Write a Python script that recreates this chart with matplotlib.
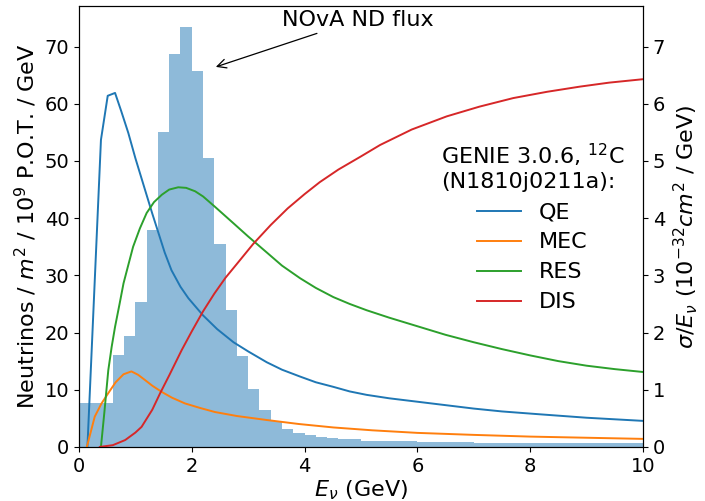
import matplotlib
matplotlib.use("Agg")
import matplotlib.pyplot as plt
import numpy as np

# Flux histogram (left axis)
flux_edges = [0.0, 0.6, 0.8, 1.0, 1.2, 1.4, 1.6, 1.8, 2.0, 2.2, 2.4, 2.6, 2.8, 3.0,
              3.2, 3.4, 3.6, 3.8, 4.0, 4.2, 4.4, 4.6, 5.0, 6.0, 7.0, 10.0]
flux_vals = [7.7, 16.1, 19.4, 25.4, 37.9, 55.0, 68.7, 73.4, 65.7, 50.5, 35.4, 23.9, 15.9,
             10.2, 6.5, 4.5, 3.2, 2.4, 2.0, 1.75, 1.5, 1.3, 1.0, 0.85, 0.7]

# Cross sections (right axis)
qe_E = [0.15, 0.39, 0.51, 0.64, 0.75, 0.875, 1.0, 1.17, 1.3, 1.41, 1.52, 1.64, 1.8, 1.94,
        2.2, 2.45, 2.74, 3.0, 3.33, 3.6, 3.92, 4.2, 4.51, 4.8, 5.1, 5.5, 6.0, 6.5, 7.0,
        7.5, 8.17, 9.0, 10.0]
qe_xs = [0.0, 5.37, 6.14, 6.19, 5.87, 5.49, 5.05, 4.50, 4.08, 3.74, 3.40, 3.09, 2.80, 2.60,
         2.30, 2.06, 1.83, 1.67, 1.48, 1.35, 1.23, 1.13, 1.05, 0.97, 0.91, 0.85, 0.79, 0.73,
         0.67, 0.62, 0.57, 0.51, 0.455]

mec_E = [0.14, 0.28, 0.4, 0.52, 0.65, 0.79, 0.93, 1.05, 1.17, 1.3, 1.47, 1.65, 1.88, 2.15,
         2.41, 2.8, 3.33, 3.9, 4.51, 5.2, 6.0, 7.0, 8.0, 9.0, 10.0]
mec_xs = [0.0, 0.53, 0.76, 0.94, 1.13, 1.27, 1.32, 1.26, 1.17, 1.07, 0.96, 0.86, 0.76, 0.68,
          0.61, 0.54, 0.47, 0.40, 0.34, 0.29, 0.245, 0.21, 0.18, 0.16, 0.14]

res_E = [0.39, 0.45, 0.52, 0.58, 0.64, 0.72, 0.79, 0.88, 0.96, 1.08, 1.2, 1.33, 1.47, 1.6,
         1.76, 1.9, 2.06, 2.2, 2.41, 2.74, 3.0, 3.33, 3.6, 3.92, 4.2, 4.51, 4.8, 5.1, 5.5,
         6.0, 6.5, 7.0, 7.5, 8.0, 8.5, 9.0, 9.5, 10.0]
res_xs = [0.0, 0.6, 1.34, 1.75, 2.10, 2.50, 2.86, 3.20, 3.50, 3.82, 4.09, 4.28, 4.41, 4.50,
          4.54, 4.53, 4.47, 4.38, 4.20, 3.91, 3.68, 3.40, 3.17, 2.95, 2.78, 2.62, 2.50, 2.39,
          2.26, 2.11, 1.96, 1.83, 1.71, 1.60, 1.50, 1.42, 1.36, 1.31]

dis_E = [0.37, 0.6, 0.82, 1.0, 1.11, 1.3, 1.44, 1.6, 1.82, 2.0, 2.2, 2.4, 2.6, 2.8, 3.09,
         3.4, 3.7, 4.0, 4.27, 4.6, 5.0, 5.34, 5.9, 6.52, 7.1, 7.7, 8.3, 8.88, 9.4, 10.0]
dis_xs = [0.0, 0.03, 0.12, 0.25, 0.35, 0.65, 0.94, 1.25, 1.69, 2.02, 2.37, 2.68, 2.96, 3.20,
          3.55, 3.88, 4.17, 4.42, 4.63, 4.85, 5.08, 5.28, 5.55, 5.78, 5.95, 6.10, 6.21, 6.30,
          6.37, 6.43]

labels = ["QE", "MEC", "RES", "DIS"]
colors = ["tab:blue", "tab:orange", "tab:green", "tab:red"]

plt.rcParams['font.size'] = 16
plt.rcParams['xtick.labelsize'] = 14
plt.rcParams['ytick.labelsize'] = 14

fig = plt.figure(figsize=(7.05, 5.01), dpi=100)
ax = fig.add_axes([0.112, 0.108, 0.800, 0.880])

ax.stairs(flux_vals, flux_edges, fill=True, color="tab:blue", alpha=0.5, linewidth=0)
ax.set_xlim(0, 10)
ax.set_ylim(0, 77.1)
ax.set_xlabel(r"$E_\nu$ (GeV)", labelpad=2)
ax.set_ylabel(r"Neutrinos / $m^2$ / $10^9$ P.O.T. / GeV")

ax.annotate("NOvA ND flux", xy=(2.38, 66.3), xytext=(4.95, 74.7),
            ha="center", va="center",
            arrowprops=dict(arrowstyle="->", color="black", lw=0.9))

ax2 = ax.twinx()
for E, xs, lab, c in zip([qe_E, mec_E, res_E, dis_E], [qe_xs, mec_xs, res_xs, dis_xs], labels, colors):
    ax2.plot(E, xs, color=c, label=lab, lw=1.4)
ax2.set_ylim(0, 7.71)
ax2.set_ylabel(r"$\sigma/E_\nu$ ($10^{-32} cm^2$ / GeV)")

leg = ax2.legend(title="GENIE 3.0.6, $^{12}$C\n(N1810j0211a):", frameon=False,
                 loc="upper left", bbox_to_anchor=(0.606, 0.737), fontsize=16,
                 title_fontsize=16, labelspacing=0.45)
leg.get_title().set_multialignment("left")

fig.savefig("out.png", dpi=100)
